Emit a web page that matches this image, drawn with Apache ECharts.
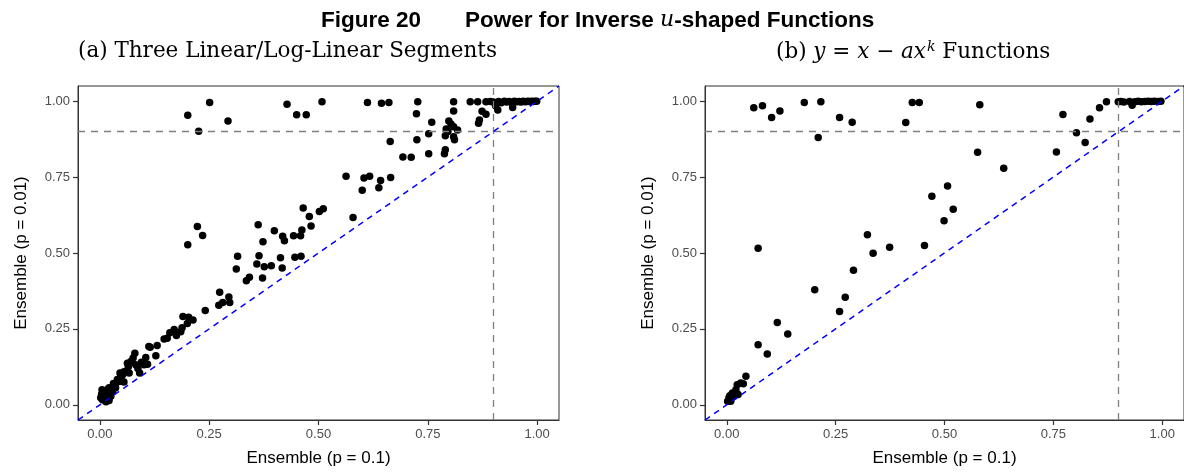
<!DOCTYPE html>
<html>
<head>
<meta charset="utf-8">
<script src="https://cdn.jsdelivr.net/npm/echarts@6/dist/echarts.min.js"></script>
<style>
  html, body { margin: 0; padding: 0; background: #fff; }
  #chart { width: 1184px; height: 472px; }
</style>
</head>
<body>
<div id="chart"></div>
<script>
// panel (a): three linear / log-linear segments  [x = p 0.1, y = p 0.01]
const segPoints = [
  [0.002,0.023],[0.004,0.035],[0.005,0.050],[0.006,0.017],[0.008,0.028],[0.009,0.040],[0.010,0.045],
  [0.012,0.020],[0.014,0.010],[0.014,0.034],[0.017,0.050],[0.018,0.040],[0.020,0.030],[0.021,0.014],
  [0.021,0.056],[0.025,0.028],[0.026,0.050],[0.029,0.045],[0.031,0.070],[0.034,0.066],[0.036,0.056],
  [0.040,0.083],[0.044,0.077],[0.046,0.105],[0.048,0.090],[0.052,0.099],[0.054,0.108],[0.055,0.075],
  [0.058,0.110],[0.063,0.137],[0.065,0.125],[0.067,0.105],[0.071,0.143],[0.076,0.154],[0.080,0.170],
  [0.082,0.132],[0.087,0.120],[0.091,0.105],[0.095,0.140],[0.101,0.132],[0.105,0.156],[0.109,0.134],
  [0.112,0.192],[0.115,0.190],[0.128,0.162],[0.131,0.195],[0.147,0.217],[0.154,0.219],[0.160,0.237],
  [0.170,0.248],[0.175,0.228],[0.185,0.241],[0.188,0.254],[0.190,0.291],[0.200,0.268],[0.203,0.288],
  [0.213,0.279],[0.241,0.311],[0.272,0.328],[0.274,0.371],[0.281,0.337],[0.295,0.355],[0.297,0.337],
  [0.312,0.447],[0.315,0.489],[0.335,0.409],[0.342,0.420],[0.359,0.464],[0.362,0.593],[0.364,0.491],
  [0.372,0.418],[0.373,0.537],[0.376,0.455],[0.392,0.458],[0.399,0.573],[0.413,0.484],[0.417,0.451],
  [0.418,0.555],[0.422,0.540],[0.443,0.557],[0.446,0.486],[0.459,0.557],[0.460,0.489],[0.462,0.576],
  [0.465,0.648],[0.479,0.620],[0.483,0.589],[0.502,0.637],[0.511,0.646],[0.563,0.753],[0.579,0.617],
  [0.600,0.707],[0.604,0.747],[0.617,0.753],[0.638,0.715],[0.642,0.739],[0.665,0.749],
  [0.201,0.527],[0.223,0.587],[0.235,0.558],
  [0.201,0.954],[0.226,0.901],[0.251,0.996],[0.293,0.935],[0.428,0.990],[0.450,0.955],[0.472,0.955],
  [0.508,0.998],[0.612,0.996],[0.644,0.993],[0.661,0.996],[0.664,0.867],[0.693,0.816],[0.712,0.815],
  [0.724,0.959],[0.725,0.873],[0.727,0.998],[0.752,0.893],[0.752,0.827],[0.759,0.931],[0.788,0.827],
  [0.790,0.840],[0.790,0.886],[0.792,0.908],[0.796,0.900],[0.798,0.935],[0.803,0.925],[0.809,0.916],
  [0.809,0.968],[0.809,0.998],[0.809,0.883],[0.811,0.873],[0.818,0.905],[0.847,0.998],[0.864,0.998],
  [0.866,0.927],[0.868,0.938],[0.874,0.967],[0.883,0.957],[0.883,0.998],[0.905,0.985],[0.910,0.971],
  [0.944,0.979],[0.893,0.999],[0.900,0.997],[0.912,0.999],[0.918,0.995],[0.925,1.000],[0.930,0.997],
  [0.936,0.999],[0.942,0.996],[0.948,1.000],[0.953,0.998],[0.958,0.999],[0.963,0.997],[0.968,1.000],
  [0.972,0.998],[0.976,0.999],[0.980,1.000],[0.984,0.998],[0.988,1.000],[0.992,0.999],[0.996,1.000],
  [0.999,1.000]
];

// panel (b): y = x - a x^k functions
const powPoints = [
  [0.002,0.012],[0.005,0.023],[0.007,0.030],[0.009,0.012],[0.010,0.020],[0.013,0.039],[0.015,0.030],
  [0.017,0.028],[0.021,0.050],[0.024,0.066],[0.026,0.034],[0.032,0.072],[0.038,0.069],[0.044,0.094],
  [0.062,0.978],[0.072,0.516],[0.072,0.198],[0.082,0.985],[0.093,0.167],[0.103,0.946],[0.116,0.271],
  [0.122,0.968],[0.140,0.233],[0.178,0.996],[0.202,0.379],[0.210,0.880],[0.216,0.998],[0.259,0.946],
  [0.259,0.307],[0.272,0.354],[0.288,0.931],[0.291,0.443],[0.323,0.560],[0.336,0.499],[0.374,0.519],
  [0.411,0.930],[0.426,0.996],[0.442,0.996],[0.454,0.525],[0.471,0.687],[0.499,0.606],[0.507,0.721],
  [0.520,0.644],[0.576,0.832],[0.581,0.988],[0.636,0.779],[0.757,0.833],[0.772,0.956],[0.803,0.896],
  [0.823,0.864],[0.834,0.941],[0.856,0.978],[0.872,0.998],[0.899,0.998],[0.905,0.999],[0.912,0.997],
  [0.925,0.999],[0.931,0.987],[0.937,0.998],[0.945,1.000],[0.952,0.998],[0.960,0.999],[0.968,1.000],
  [0.975,0.999],[0.982,1.000],[0.990,0.999],[0.997,1.000]
];

const tickValues = [0, 0.25, 0.5, 0.75, 1];
const axisMin = -0.05;
const axisMax = 1.05;
const powerLevel = 0.9;

const chart = echarts.init(document.getElementById('chart'));

const sans = 'Liberation Sans';
const serif = 'DejaVu Serif';

function axisFor(gridIndex, isY) {
  return {
    type: 'value', gridIndex, min: axisMin, max: axisMax,
    name: isY ? 'Ensemble (p = 0.01)' : 'Ensemble (p = 0.1)',
    nameLocation: 'middle', nameGap: isY ? 48 : 30, nameRotate: isY ? 90 : 0,
    nameTextStyle: { fontFamily: sans, fontSize: 17, color: '#000' },
    axisLine: { show: true, onZero: false, lineStyle: { color: '#333', width: 1 } },
    splitLine: { show: false },
    axisTick: { show: true, inside: false, customValues: tickValues, length: 5, lineStyle: { color: '#333', width: 1.2 } },
    axisLabel: { customValues: tickValues, formatter: v => v.toFixed(2), fontFamily: sans, fontSize: 13, color: '#4d4d4d', margin: 8 }
  };
}

function refLines() {
  const gray = { color: '#7f7f7f', width: 1.3, type: [7, 6] };
  return {
    silent: true, symbol: 'none', animation: false,
    label: { show: false },
    data: [
      { yAxis: powerLevel, lineStyle: gray },
      { xAxis: powerLevel, lineStyle: gray },
      [
        { coord: [axisMin, axisMin], lineStyle: { color: '#0000ff', width: 1.5, type: [6, 5] } },
        { coord: [axisMax, axisMax] }
      ]
    ]
  };
}

function scatterFor(idx, pts) {
  return {
    type: 'scatter', xAxisIndex: idx, yAxisIndex: idx,
    data: pts, symbolSize: 7.5,
    itemStyle: { color: '#000', opacity: 1 },
    markLine: refLines()
  };
}

chart.setOption({
  animation: false,
  title: [
    {
      left: 316, top: 4,
      text: '{b|Figure 20}{sp|}{b|Power for Inverse }{i|u}{b|-shaped Functions}',
      textStyle: {
        rich: {
          b: { fontFamily: sans, fontWeight: 'bold', fontSize: 22.5, color: '#000' },
          i: { fontFamily: serif, fontStyle: 'italic', fontWeight: 'normal', fontSize: 22, color: '#000' },
          sp: { width: 44 }
        }
      }
    },
    {
      left: 73, top: 35,
      text: '(a) Three Linear/Log-Linear Segments',
      textStyle: { fontFamily: serif, fontWeight: 'normal', fontSize: 21.5, color: '#000' }
    },
    {
      left: 771, top: 35,
      text: '{n|(b) }{i|y}{n| = }{i|x}{n| \u2212 }{i|ax}{s|k}{n| Functions}',
      textStyle: {
        fontWeight: 'normal',
        rich: {
          n: { fontFamily: serif, fontWeight: 'normal', fontSize: 21.5, color: '#000' },
          i: { fontFamily: serif, fontStyle: 'italic', fontWeight: 'normal', fontSize: 21.5, color: '#000' },
          s: { fontFamily: serif, fontStyle: 'italic', fontWeight: 'normal', fontSize: 14, color: '#000', verticalAlign: 'top', padding: [0, 0, 10, 1] }
        }
      }
    }
  ],
  grid: [
    { left: 78, top: 86, width: 481, height: 337, show: true, borderColor: '#333', borderWidth: 1, backgroundColor: '#fff' },
    { left: 705, top: 86, width: 480, height: 337, show: true, borderColor: '#333', borderWidth: 1, backgroundColor: '#fff' }
  ],
  xAxis: [axisFor(0, false), axisFor(1, false)],
  yAxis: [axisFor(0, true), axisFor(1, true)],
  series: [scatterFor(0, segPoints), scatterFor(1, powPoints)]
});
</script>
</body>
</html>
